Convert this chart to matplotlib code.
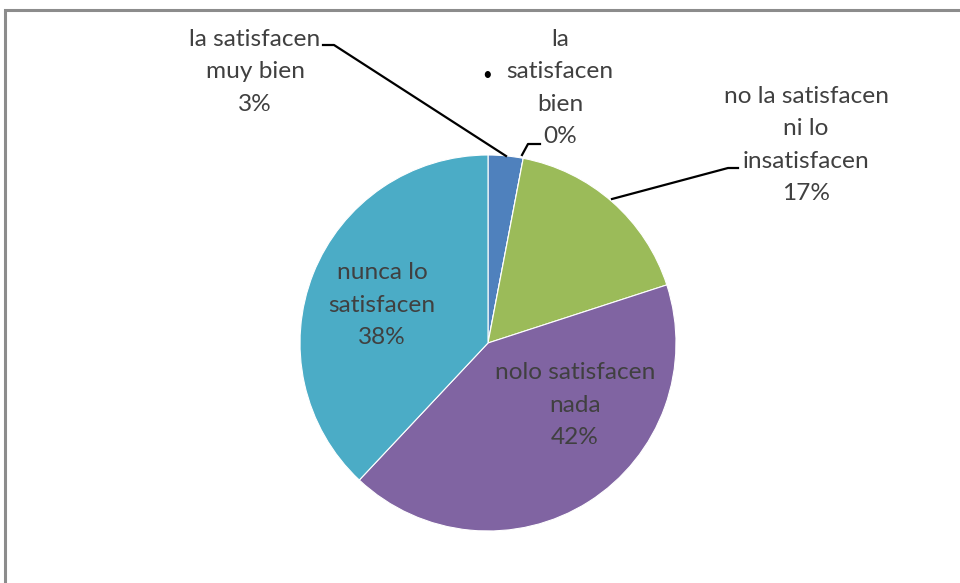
import matplotlib
matplotlib.use("Agg")
import matplotlib.pyplot as plt

# Datos de la encuesta
categorias = ["la satisfacen\nmuy bien", "la\nsatisfacen\nbien",
              "no la satisfacen\nni lo\ninsatisfacen",
              "nolo satisfacen\nnada", "nunca lo\nsatisfacen"]
porcentajes = [3, 0, 17, 42, 38]
colores = ["#4F81BD", "#C0504D", "#9BBB59", "#8064A2", "#4BACC6"]

W, H = 960, 583
TEXTO = "#404040"

plt.rcParams['font.family'] = ['Lato', 'DejaVu Sans']

fig = plt.figure(figsize=(W / 100, H / 100), dpi=100, facecolor='white')
ax = fig.add_axes([0, 0, 1, 1])


def Y(y):
    # coordenadas de pantalla (y hacia abajo) -> ejes
    return H - y


ax.pie(porcentajes, colors=colores, startangle=90, counterclock=False,
       radius=188, center=(488, Y(343)), frame=True,
       wedgeprops=dict(linewidth=0.8, edgecolor='white'))
ax.set_xlim(0, W)
ax.set_ylim(0, H)
ax.set_aspect('equal')
ax.axis('off')

# marco del área del gráfico
ax.plot([5, 5, W + 5], [Y(H + 5), Y(10), Y(10)], color='#8c8c8c', lw=2.2,
        solid_joinstyle='miter', clip_on=False)

kw = dict(ha='center', va='center', fontsize=17.6, color=TEXTO, linespacing=1.68)

# etiquetas exteriores con líneas guía
pos_ext = {0: (255, 72), 1: (560, 88), 2: (806, 145)}
guias = {
    0: [(323, 45), (334, 45), (506, 156)],
    1: [(522, 155), (528, 144), (540, 144)],
    2: [(612, 199), (728, 168), (738, 168)],
}
for i, (x, y) in pos_ext.items():
    ax.text(x, Y(y), f"{categorias[i]}\n{porcentajes[i]}%", **kw)
    gx, gy = zip(*guias[i])
    ax.plot(gx, [Y(v) for v in gy], color='black', lw=1.6)

ax.text(487, Y(75), "•", ha='center', va='center', fontsize=12, color='black')

# etiquetas dentro de las porciones grandes
pos_int = {3: (575, 405), 4: (382, 305)}
for i, (x, y) in pos_int.items():
    ax.text(x, Y(y), f"{categorias[i]}\n{porcentajes[i]}%", **kw)

fig.savefig("out.png", dpi=100, facecolor='white')
